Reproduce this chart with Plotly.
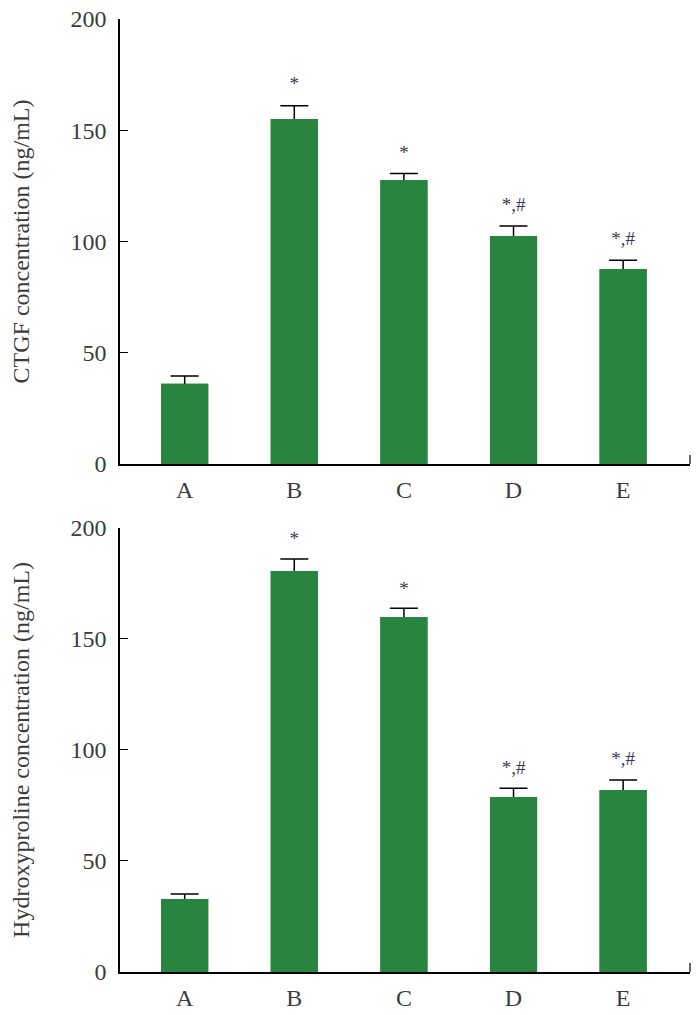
import plotly.graph_objects as go

groups = ["A", "B", "C", "D", "E"]
ctgf_mean = [36, 155, 127.6, 102.5, 87.6]
ctgf_err = [3.5, 6, 3, 4.5, 4]
ctgf_marks = ["", "*", "*", "*,#", "*,#"]
ctgf_mark_y = [None, 170, 139, 116, 100.5]

hyp_mean = [32.9, 180.6, 159.9, 78.8, 82]
hyp_err = [2.2, 5.4, 4, 4, 4.5]
hyp_marks = ["", "*", "*", "*,#", "*,#"]
hyp_mark_y = [None, 194.5, 172, 91.3, 95.4]

y_ticks = [0, 50, 100, 150, 200]

GREEN = "#28843f"
TXT = "#3c3c3c"
FONT = "Liberation Serif"
xs = list(range(len(groups)))

fig = go.Figure()

def add_panel(mean, err, marks, mark_y, xa, ya):
    fig.add_trace(go.Bar(x=xs, y=mean, width=0.43, marker=dict(color=GREEN, line=dict(width=0)),
                         error_y=dict(type="data", array=err, symmetric=True, color="black",
                                      thickness=1.5, width=14),
                         xaxis=xa, yaxis=ya, showlegend=False, hoverinfo="skip"))
    fig.add_trace(go.Bar(x=xs, y=mean, width=0.43, marker=dict(color=GREEN, line=dict(width=0)),
                         xaxis=xa, yaxis=ya, showlegend=False))
    mx = [x for x, m in zip(xs, marks) if m]
    my = [y for y, m in zip(mark_y, marks) if m]
    mt = [m for m in marks if m]
    fig.add_trace(go.Scatter(x=mx, y=my, mode="text", text=mt,
                             textfont=dict(family=FONT, size=19, color="#3a3a55"),
                             xaxis=xa, yaxis=ya, showlegend=False, hoverinfo="skip"))

add_panel(ctgf_mean, ctgf_err, ctgf_marks, ctgf_mark_y, "x", "y")
add_panel(hyp_mean, hyp_err, hyp_marks, hyp_mark_y, "x2", "y2")

xcommon = dict(range=[-0.59, 4.61], tickvals=xs, ticktext=groups, ticks="",
               showline=True, linecolor="black", linewidth=1.5, showgrid=False, zeroline=False,
               automargin=False, ticklabeloverflow="allow",
               tickfont=dict(family=FONT, size=24, color=TXT), ticklabelstandoff=3)
ycommon = dict(range=[0, 200], tickvals=y_ticks, ticks="inside", ticklen=8, tickwidth=1.2,
               tickcolor="black", showline=True, linecolor="black", linewidth=1.5,
               showgrid=False, zeroline=False, automargin=False, ticklabeloverflow="allow",
               tickfont=dict(family=FONT, size=24, color=TXT), ticklabelstandoff=7)

fig.update_layout(
    width=699, height=1015,
    margin=dict(l=112, r=17, t=11, b=51),
    plot_bgcolor="white", paper_bgcolor="white",
    barmode="overlay",
    xaxis=dict(domain=[0, 1], anchor="y", **xcommon),
    yaxis=dict(domain=[0.5331, 1], anchor="x",
               title=dict(text="CTGF concentration (ng/mL)", font=dict(family=FONT, size=24, color=TXT), standoff=43),
               **ycommon),
    xaxis2=dict(domain=[0, 1], anchor="y2", **xcommon),
    yaxis2=dict(domain=[0, 0.4659], anchor="x2",
                title=dict(text="Hydroxyproline concentration (ng/mL)", font=dict(family=FONT, size=24, color=TXT), standoff=43),
                **ycommon),
)

for yd in ["y", "y2"]:
    xd = "x" if yd == "y" else "x2"
    fig.add_shape(type="line", xref=f"{xd} domain", yref=f"{yd} domain", x0=1, x1=1, y0=0, y1=0.02,
                  line=dict(color="black", width=1.2))

fig.write_html("out.html")
